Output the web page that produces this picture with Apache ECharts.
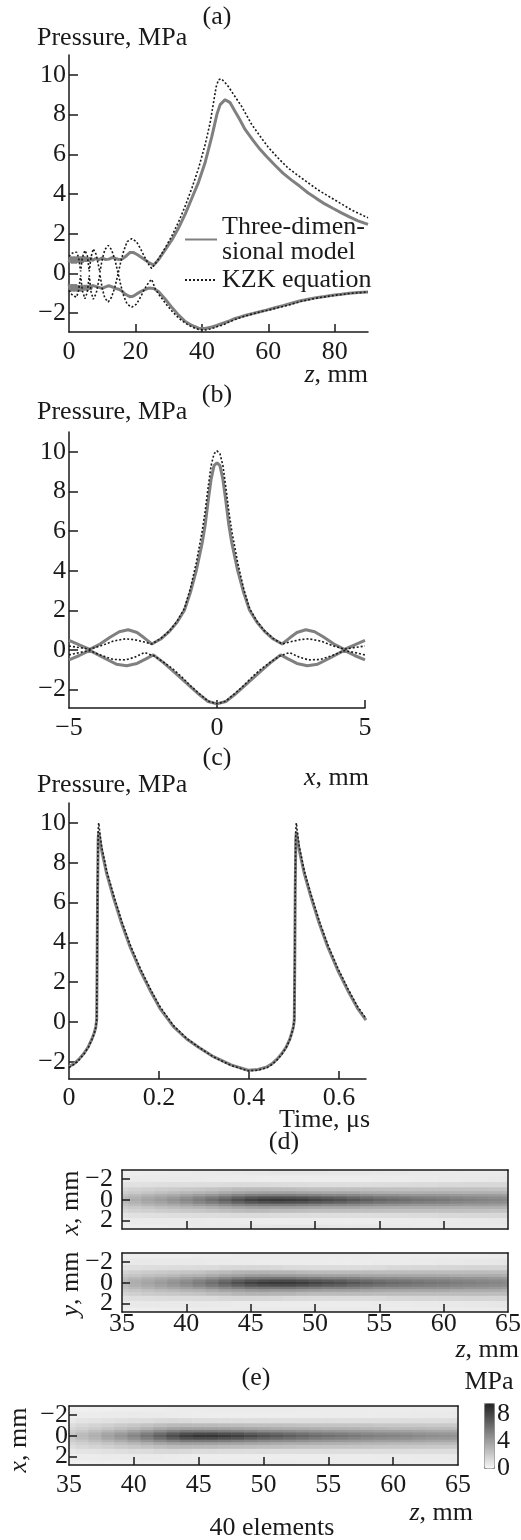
<!DOCTYPE html>
<html>
<head>
<meta charset="utf-8">
<script src="https://cdn.jsdelivr.net/npm/echarts@6/dist/echarts.min.js"></script>
<style>
html, body { margin: 0; padding: 0; background: #fff; }
#main { width: 521px; height: 1540px; }
</style>
</head>
<body>
<div id="main"></div>
<script>
// (a) peak pressures along the axis
var zA3d = [0,0.5,1,1.5,2,2.5,3,3.5,4,4.5,5,5.5,6,6.5,7,8,9,10,11,12,13,14,15,16,17,18.3,19.3,20.5,22.3,24,25.5,27,29,31,33,35,37,39,41,43,44.5,45.5,47,48.5,50,51.4,53,55.4,57.5,59.4,62,64.4,67,69.4,72,74.4,77,79.4,82,84.4,87,90];
var pPosA3d = [0.55,0.85,0.5,0.85,0.5,0.85,0.55,0.85,0.55,0.85,0.6,0.8,0.6,0.8,0.65,0.75,0.7,0.78,0.7,0.72,0.8,0.75,0.7,0.72,0.85,1.05,1.06,0.95,0.75,0.55,0.42,0.7,1.2,1.7,2.3,3.0,3.8,4.6,5.6,6.9,8.0,8.5,8.75,8.6,8.15,7.75,7.25,6.7,6.25,5.9,5.45,5.05,4.7,4.4,4.05,3.78,3.5,3.28,3.05,2.85,2.65,2.47];
var pNegA3d = [-0.55,-0.9,-0.55,-0.9,-0.55,-0.9,-0.6,-0.9,-0.6,-0.85,-0.6,-0.85,-0.6,-0.8,-0.6,-0.65,-0.7,-0.75,-0.68,-0.62,-0.68,-0.75,-0.8,-0.9,-1.05,-1.17,-1.15,-1.02,-0.85,-0.74,-0.76,-0.92,-1.3,-1.72,-2.1,-2.42,-2.62,-2.76,-2.77,-2.7,-2.62,-2.56,-2.47,-2.38,-2.27,-2.2,-2.12,-2.02,-1.93,-1.85,-1.73,-1.62,-1.5,-1.39,-1.3,-1.22,-1.16,-1.1,-1.05,-1.0,-0.96,-0.93];
var zAkzk = [0,0.8,1.6,2.3,2.9,3.5,4.0,4.8,5.5,6.1,6.6,7.3,8.2,9.3,10.0,10.8,11.8,12.8,13.8,14.8,15.6,16.5,17.5,18.9,20.3,21.5,22.7,24.0,24.9,26,27,29,31,33,35,37,39,41,42.5,43.5,44.3,45,45.8,46.8,48,50,52,55,58,60,63,66,70,75,80,85,90];
var pPosAkzk = [0.85,1.0,1.07,1.07,0.8,0.1,0.8,1.16,0.9,0.1,0.8,1.24,0.95,0.05,0.7,1.2,1.41,1.2,0.7,0.0,0.6,1.15,1.6,1.75,1.6,1.25,0.85,0.45,0.25,0.5,0.75,1.3,1.9,2.6,3.4,4.3,5.3,6.5,7.6,8.6,9.4,9.75,9.8,9.65,9.4,8.9,8.4,7.5,6.8,6.35,5.8,5.3,4.8,4.2,3.7,3.2,2.8];
var pNegAkzk = [-0.85,-1.05,-1.15,-1.19,-0.85,-0.1,-0.85,-1.28,-0.95,-0.1,-0.9,-1.3,-1.0,-0.05,-0.75,-1.25,-1.44,-1.2,-0.7,0.0,-0.6,-1.15,-1.55,-1.7,-1.55,-1.2,-0.8,-0.45,-0.3,-0.8,-1.05,-1.5,-1.9,-2.25,-2.5,-2.7,-2.82,-2.85,-2.8,-2.75,-2.7,-2.66,-2.62,-2.56,-2.46,-2.32,-2.2,-2.05,-1.92,-1.85,-1.72,-1.6,-1.4,-1.23,-1.1,-1.0,-0.93];

// (b) peak pressures across the focus
var xB3dPos = [-5,-4.65,-4.3,-3.95,-3.6,-3.3,-3.0,-2.7,-2.45,-2.2,-1.9,-1.6,-1.35,-1.1,-0.9,-0.7,-0.5,-0.4,-0.3,-0.2,-0.1,0,0.1,0.2,0.3,0.4,0.5,0.7,0.9,1.1,1.35,1.6,1.9,2.2,2.45,2.7,3.0,3.3,3.6,3.95,4.3,4.65,5];
var pB3dPos = [0.48,0.25,0.03,0.3,0.65,0.92,1.02,0.88,0.6,0.3,0.55,0.95,1.4,2.0,2.9,4.0,5.4,6.3,7.5,8.6,9.3,9.45,9.3,8.6,7.5,6.3,5.4,4.0,2.9,2.0,1.4,0.95,0.55,0.3,0.6,0.88,1.02,0.92,0.65,0.3,0.03,0.25,0.48];
var xBkzkPos = [-5,-4.65,-4.3,-3.9,-3.5,-3.1,-2.8,-2.45,-2.2,-1.9,-1.6,-1.35,-1.1,-0.9,-0.7,-0.5,-0.4,-0.3,-0.2,-0.1,0,0.1,0.2,0.3,0.4,0.5,0.7,0.9,1.1,1.35,1.6,1.9,2.2,2.45,2.8,3.1,3.5,3.9,4.3,4.65,5];
var pBkzkPos = [0.2,0.12,0.04,0.22,0.45,0.56,0.52,0.4,0.3,0.58,0.97,1.45,2.1,3.1,4.4,6.0,7.0,8.2,9.3,9.9,10.05,9.9,9.3,8.2,7.0,6.0,4.4,3.1,2.1,1.45,0.97,0.58,0.3,0.4,0.52,0.56,0.45,0.22,0.04,0.12,0.2];
var xB3dNeg = [-5,-4.65,-4.3,-3.8,-3.4,-3.05,-2.7,-2.4,-2.15,-1.8,-1.5,-1.2,-0.9,-0.6,-0.3,0,0.3,0.6,0.9,1.2,1.5,1.8,2.15,2.4,2.7,3.05,3.4,3.8,4.3,4.65,5];
var pB3dNeg = [-0.5,-0.28,-0.02,-0.42,-0.72,-0.8,-0.68,-0.45,-0.25,-0.65,-1.05,-1.45,-1.85,-2.25,-2.6,-2.72,-2.6,-2.25,-1.85,-1.45,-1.05,-0.65,-0.25,-0.45,-0.68,-0.8,-0.72,-0.42,-0.02,-0.28,-0.5];
var xBkzkNeg = [-5,-4.65,-4.3,-3.9,-3.5,-3.1,-2.8,-2.45,-2.1,-1.8,-1.5,-1.2,-0.9,-0.6,-0.3,0,0.3,0.6,0.9,1.2,1.5,1.8,2.1,2.45,2.8,3.1,3.5,3.9,4.3,4.65,5];
var pBkzkNeg = [-0.25,-0.13,-0.03,-0.28,-0.48,-0.5,-0.38,-0.13,-0.32,-0.62,-0.95,-1.35,-1.8,-2.2,-2.58,-2.72,-2.58,-2.2,-1.8,-1.35,-0.95,-0.62,-0.32,-0.13,-0.38,-0.5,-0.48,-0.28,-0.03,-0.13,-0.25];

// (c) waveform at the focus
var tC = [0,0.012,0.024,0.034,0.043,0.051,0.056,0.0595,0.0615,0.0625,0.0635,0.0648,0.066,0.0675,0.0726,0.0837,0.0985,0.117,0.1356,0.158,0.18,0.202,0.232,0.2615,0.287,0.321,0.36,0.398,0.42,0.44,0.452,0.463,0.473,0.482,0.49,0.495,0.4985,0.5007,0.5017,0.5027,0.504,0.5052,0.5067,0.5118,0.5229,0.5377,0.5562,0.5748,0.5972,0.6192,0.6412,0.66];
var pC3d = [-2.24,-2.08,-1.82,-1.55,-1.24,-0.85,-0.55,-0.25,0.1,3.0,6.5,9.2,9.55,9.45,8.62,7.45,6.28,4.95,3.78,2.6,1.6,0.69,-0.23,-0.85,-1.25,-1.74,-2.15,-2.42,-2.38,-2.25,-2.08,-1.85,-1.58,-1.28,-0.9,-0.55,-0.25,0.1,3.0,6.5,9.2,9.55,9.45,8.62,7.45,6.28,4.95,3.78,2.6,1.6,0.69,0.1];
var pCkzk = [-2.28,-2.12,-1.86,-1.58,-1.27,-0.88,-0.57,-0.27,0.1,3.2,6.8,9.6,10.0,9.7,8.8,7.6,6.42,5.08,3.9,2.72,1.7,0.78,-0.17,-0.82,-1.24,-1.75,-2.18,-2.45,-2.42,-2.29,-2.12,-1.89,-1.62,-1.31,-0.93,-0.57,-0.27,0.1,3.2,6.8,9.6,10.0,9.7,8.8,7.6,6.42,5.08,3.9,2.72,1.7,0.78,0.18];

// (d), (e) peak positive pressure maps: columns z = 35..65 mm, one row per |x| (mm)
var zCols = [35,36,37,38,39,40,41,42,43,44,45,46,47,48,49,50,51,52,53,54,55,56,57,58,59,60,61,62,63,64,65];
var absX = [0,0.25,0.5,0.75,1.0,1.5,2.0,2.75];
var mapXZ = [
  [3.0,3.4,3.8,4.2,4.6,5.1,5.6,6.2,6.9,7.7,8.3,8.6,8.75,8.7,8.5,8.2,7.9,7.7,7.4,7.0,6.7,6.5,6.3,6.1,5.95,5.85,5.65,5.5,5.35,5.2,5.05],
  [2.9,3.2,3.6,3.9,4.3,4.7,5.2,5.7,6.2,6.9,7.4,7.7,7.8,7.7,7.6,7.3,7.1,6.9,6.6,6.3,6.1,5.9,5.8,5.6,5.5,5.4,5.2,5.1,5.0,4.9,4.8],
  [2.4,2.7,3.0,3.3,3.5,3.8,4.1,4.4,4.8,5.2,5.5,5.6,5.6,5.6,5.4,5.3,5.1,5.1,5.0,4.8,4.6,4.6,4.5,4.4,4.4,4.4,4.3,4.2,4.2,4.1,4.0],
  [1.9,2.1,2.3,2.5,2.7,2.9,3.0,3.2,3.5,3.7,3.9,4.0,3.9,3.9,3.8,3.7,3.6,3.6,3.6,3.4,3.4,3.3,3.3,3.3,3.3,3.3,3.2,3.2,3.2,3.2,3.1],
  [1.5,1.7,1.8,1.9,2.0,2.1,2.2,2.4,2.5,2.7,2.8,2.8,2.7,2.7,2.6,2.5,2.5,2.5,2.5,2.5,2.45,2.45,2.45,2.45,2.45,2.45,2.45,2.45,2.45,2.4,2.4],
  [0.9,1.0,1.05,1.1,1.15,1.15,1.2,1.2,1.25,1.3,1.3,1.3,1.25,1.2,1.2,1.15,1.15,1.15,1.15,1.15,1.2,1.25,1.25,1.3,1.3,1.35,1.35,1.4,1.4,1.4,1.4],
  [0.55,0.6,0.6,0.6,0.6,0.6,0.6,0.55,0.55,0.5,0.5,0.45,0.45,0.45,0.45,0.45,0.45,0.45,0.45,0.45,0.5,0.5,0.5,0.55,0.55,0.6,0.6,0.65,0.65,0.7,0.75],
  [0.45,0.45,0.5,0.5,0.55,0.55,0.6,0.6,0.65,0.65,0.7,0.7,0.75,0.75,0.75,0.75,0.75,0.7,0.7,0.7,0.65,0.65,0.65,0.6,0.6,0.6,0.6,0.6,0.6,0.6,0.6]
];
var mapYZ = [
  [3.0,3.4,3.8,4.2,4.6,5.1,5.6,6.2,6.9,7.7,8.3,8.6,8.75,8.7,8.5,8.2,7.9,7.7,7.4,7.0,6.7,6.5,6.3,6.1,5.95,5.85,5.65,5.5,5.35,5.2,5.05],
  [2.9,3.3,3.6,4.0,4.4,4.8,5.3,5.8,6.4,7.0,7.5,7.8,7.9,7.9,7.7,7.4,7.2,7.0,6.7,6.4,6.2,6.0,5.9,5.7,5.6,5.5,5.3,5.2,5.1,5.0,4.9],
  [2.6,2.9,3.2,3.5,3.7,4.0,4.3,4.7,5.1,5.5,5.8,5.9,5.9,5.9,5.7,5.6,5.4,5.4,5.3,5.1,4.9,4.9,4.8,4.7,4.7,4.7,4.6,4.5,4.5,4.3,4.2],
  [2.1,2.3,2.5,2.7,2.9,3.1,3.2,3.5,3.8,4.0,4.2,4.3,4.2,4.2,4.1,4.0,3.9,3.9,3.9,3.7,3.7,3.6,3.6,3.6,3.6,3.6,3.5,3.5,3.5,3.5,3.3],
  [1.65,1.85,2.0,2.1,2.2,2.3,2.4,2.65,2.75,3.0,3.1,3.1,3.0,3.0,2.85,2.75,2.75,2.75,2.75,2.75,2.7,2.7,2.7,2.7,2.7,2.7,2.7,2.7,2.7,2.65,2.65],
  [1.0,1.1,1.15,1.2,1.25,1.25,1.3,1.3,1.4,1.45,1.45,1.45,1.4,1.3,1.3,1.25,1.25,1.25,1.25,1.25,1.3,1.4,1.4,1.45,1.45,1.5,1.5,1.55,1.55,1.55,1.55],
  [0.6,0.65,0.65,0.65,0.65,0.65,0.65,0.6,0.6,0.55,0.55,0.5,0.5,0.5,0.5,0.5,0.5,0.5,0.5,0.5,0.55,0.55,0.55,0.6,0.6,0.65,0.65,0.7,0.7,0.75,0.8],
  [0.4,0.4,0.4,0.45,0.45,0.45,0.5,0.5,0.5,0.55,0.55,0.55,0.55,0.55,0.55,0.55,0.55,0.55,0.55,0.55,0.5,0.5,0.5,0.5,0.5,0.5,0.5,0.5,0.5,0.55,0.55]
];
var map40 = [
  [2.3,2.8,3.3,3.9,4.5,5.2,6.0,6.9,7.8,8.5,8.9,8.9,8.7,8.4,8.0,7.6,7.3,7.0,6.7,6.4,6.2,6.0,5.8,5.6,5.45,5.3,5.15,5.0,4.85,4.7,4.6],
  [2.2,2.7,3.1,3.7,4.2,4.8,5.5,6.3,7.1,7.7,7.9,7.9,7.7,7.5,7.1,6.8,6.6,6.3,6.1,5.8,5.6,5.5,5.3,5.1,5.0,4.9,4.8,4.6,4.5,4.4,4.3],
  [1.9,2.2,2.6,3.0,3.4,3.9,4.4,4.9,5.4,5.7,5.7,5.7,5.6,5.4,5.2,5.0,4.9,4.8,4.6,4.5,4.4,4.3,4.2,4.1,4.0,4.0,3.9,3.8,3.7,3.6,3.6],
  [1.5,1.8,2.0,2.3,2.6,2.9,3.2,3.6,3.9,4.0,4.0,4.0,3.9,3.8,3.7,3.6,3.5,3.4,3.4,3.3,3.2,3.2,3.1,3.0,3.0,2.9,2.9,2.9,2.8,2.8,2.7],
  [1.2,1.4,1.6,1.8,2.0,2.2,2.4,2.6,2.8,2.85,2.8,2.8,2.7,2.65,2.55,2.5,2.5,2.45,2.4,2.35,2.35,2.35,2.3,2.3,2.2,2.2,2.15,2.15,2.1,2.1,2.05],
  [0.7,0.85,0.9,1.0,1.1,1.2,1.25,1.35,1.4,1.35,1.25,1.25,1.2,1.2,1.15,1.2,1.15,1.15,1.15,1.15,1.2,1.15,1.15,1.15,1.15,1.15,1.2,1.2,1.2,1.2,1.2],
  [0.45,0.5,0.5,0.55,0.55,0.6,0.6,0.6,0.55,0.5,0.45,0.45,0.45,0.45,0.45,0.45,0.45,0.45,0.45,0.45,0.5,0.5,0.5,0.5,0.55,0.55,0.55,0.6,0.6,0.6,0.65],
  [0.3,0.3,0.35,0.35,0.4,0.4,0.45,0.45,0.5,0.5,0.5,0.55,0.55,0.55,0.55,0.55,0.55,0.55,0.5,0.5,0.5,0.5,0.5,0.5,0.5,0.5,0.5,0.5,0.5,0.5,0.5]
];

var pTicks = [-2,0,2,4,6,8,10];
var mapTicks = [-2,0,2];
var zLabels = [35,40,45,50,55,60,65];
var barTicks = [0,4,8];

var FONT = 'Liberation Serif';
var INK = '#1a1a1a';
var NAME3D = 'Three-dimen-\nsional model';
var NAMEKZK = 'KZK equation';

function pairs(xs, ys) {
  return xs.map(function (x, i) { return [x, ys[i]]; });
}
// each cell: [z, x, value, lower edge, upper edge]; rows are mirrored about x = 0
function buildMap(rows) {
  var out = [];
  rows.forEach(function (row, r) {
    var lo = r === 0 ? 0 : (absX[r - 1] + absX[r]) / 2;
    var hi = r === absX.length - 1 ? absX[r] + (absX[r] - absX[r - 1]) / 2 : (absX[r] + absX[r + 1]) / 2;
    row.forEach(function (v, c) {
      if (r === 0) {
        out.push([zCols[c], 0, v, -hi, hi]);
      } else {
        out.push([zCols[c], absX[r], v, lo, hi]);
        out.push([zCols[c], -absX[r], v, -hi, -lo]);
      }
    });
  });
  return out;
}
function minus(v) { return String(v).replace('-', '\u2212'); }

var axLine = { onZero: false, lineStyle: { color: INK, width: 1.5 } };

function xLine(gi, min, max, labels, ticks, margin) {
  return {
    type: 'value', gridIndex: gi, min: min, max: max,
    axisLine: axLine,
    axisTick: { inside: true, length: 8, customValues: ticks, lineStyle: { color: INK, width: 1.5 } },
    axisLabel: { customValues: labels, margin: margin, fontSize: 26, color: INK, fontFamily: FONT, formatter: minus, hideOverlap: false },
    splitLine: { show: false }
  };
}
function yLine(gi, min) {
  return {
    type: 'value', gridIndex: gi, min: min, max: 11,
    axisLine: axLine,
    axisTick: { inside: true, length: 9, customValues: pTicks, lineStyle: { color: INK, width: 1.5 } },
    axisLabel: { customValues: pTicks, margin: 3, fontSize: 26, color: INK, fontFamily: FONT, formatter: minus, hideOverlap: false },
    splitLine: { show: false }
  };
}
function xMap(gi, showLabels, margin) {
  return {
    type: 'value', gridIndex: gi, min: 35, max: 65, z: 5,
    axisLine: axLine,
    axisTick: { inside: true, length: 8, customValues: [40,45,50,55,60], lineStyle: { color: INK, width: 1.5 } },
    axisLabel: { show: showLabels, customValues: zLabels, margin: margin, fontSize: 26, color: INK, fontFamily: FONT, hideOverlap: false },
    splitLine: { show: false }
  };
}
function xMapTop(gi) {
  return { type: 'value', gridIndex: gi, min: 35, max: 65, position: 'top', z: 5,
    axisLine: axLine, axisTick: { show: false }, axisLabel: { show: false }, splitLine: { show: false } };
}
// tick labels of the map y axes are placed after the first render (see below)
function yMap(gi) {
  return {
    type: 'value', gridIndex: gi, min: -2.85, max: 2.8, inverse: true, z: 5,
    axisLine: axLine,
    axisTick: { inside: true, length: 8, customValues: mapTicks, lineStyle: { color: INK, width: 1.5 } },
    axisLabel: { show: false },
    splitLine: { show: false }
  };
}
function yMapRight(gi) {
  return { type: 'value', gridIndex: gi, min: -2.85, max: 2.8, inverse: true, position: 'right', z: 5,
    axisLine: axLine, axisTick: { show: false }, axisLabel: { show: false }, splitLine: { show: false } };
}

var solid = { color: '#808080', width: 3 };
var dotted = { color: INK, width: 1.6, type: [2, 2] };

function lineSeries(name, gi, data, style, z) {
  return {
    type: 'line', name: name, xAxisIndex: gi, yAxisIndex: gi, data: data,
    symbol: 'none', showSymbol: false, lineStyle: style, itemStyle: { color: style.color },
    z: z, silent: true, animation: false
  };
}

function renderCell(params, api) {
  var z = api.value(0);
  var a = api.coord([z - 0.5, api.value(3)]);
  var b = api.coord([z + 0.5, api.value(4)]);
  var cs = params.coordSys;
  var shape = echarts.graphic.clipRectByRect(
    { x: Math.min(a[0], b[0]), y: Math.min(a[1], b[1]), width: Math.abs(b[0] - a[0]) + 0.6, height: Math.abs(b[1] - a[1]) + 0.6 },
    { x: cs.x, y: cs.y, width: cs.width, height: cs.height });
  if (!shape) return;
  return { type: 'rect', shape: shape, style: { fill: api.visual('color') } };
}
function mapSeries(xi, yi, rows) {
  return { type: 'custom', xAxisIndex: xi, yAxisIndex: yi, renderItem: renderCell,
    data: buildMap(rows), encode: { x: 0, y: 1 }, z: 1, silent: true, animation: false };
}

function txt(x, y, text, align, opts) {
  opts = opts || {};
  return {
    type: 'text', x: x, y: y, rotation: opts.rotation || 0, silent: true,
    style: {
      text: text, fill: INK, fontSize: 26, fontFamily: FONT,
      align: align, textAlign: align, verticalAlign: 'middle', textVerticalAlign: 'middle',
      rich: { i: { fontStyle: 'italic', fontSize: 26, fontFamily: FONT, fill: INK } }
    }
  };
}

var chart = echarts.init(document.getElementById('main'), null, { renderer: 'canvas' });

var option = {
  backgroundColor: '#fff',
  animation: false,
  textStyle: { fontFamily: FONT, color: INK },
  grid: [
    { left: 69, top: 55, width: 299, height: 277, outerBoundsMode: 'none' },
    { left: 69, top: 432, width: 296, height: 276, outerBoundsMode: 'none' },
    { left: 69, top: 803, width: 297, height: 276, outerBoundsMode: 'none' },
    { left: 122, top: 1170, width: 386, height: 59, outerBoundsMode: 'none' },
    { left: 122, top: 1253, width: 386, height: 59, outerBoundsMode: 'none' },
    { left: 69, top: 1406, width: 389, height: 59, outerBoundsMode: 'none' },
    { left: 484, top: 1403, width: 10, height: 65, outerBoundsMode: 'none' }
  ],
  xAxis: [
    xLine(0, 0, 90, [0,20,40,60,80], [20,40,60,80], 7),
    xLine(1, -5, 5, [-5,0,5], [0,5], 7),
    xLine(2, 0, 0.66, [0,0.2,0.4,0.6], [0.2,0.4,0.6], 6),
    xMap(3, false, 0), xMapTop(3),
    xMap(4, true, -1), xMapTop(4),
    xMap(5, true, 7), xMapTop(5),
    { type: 'value', gridIndex: 6, min: 0, max: 1, show: false }
  ],
  yAxis: [
    yLine(0, -2.95),
    yLine(1, -2.93),
    yLine(2, -2.86),
    yMap(3), yMapRight(3),
    yMap(4), yMapRight(4),
    yMap(5), yMapRight(5),
    { type: 'value', gridIndex: 6, min: 0, max: 9.7, position: 'right',
      axisLine: { show: false }, axisTick: { show: false }, splitLine: { show: false },
      axisLabel: { customValues: barTicks, margin: 3, fontSize: 26, lineHeight: 18, color: INK, fontFamily: FONT, hideOverlap: false } }
  ],
  legend: {
    data: [NAME3D, NAMEKZK], orient: 'vertical', left: 179, top: 209,
    itemWidth: 32, itemHeight: 12, itemGap: 2, selectedMode: false,
    itemStyle: { opacity: 0 },
    textStyle: { fontSize: 26, lineHeight: 25, color: INK, fontFamily: FONT }
  },
  visualMap: {
    type: 'continuous', min: 0, max: 9.7, dimension: 2, seriesIndex: [10, 11, 12],
    inRange: { color: ['#f7f7f7', '#232323'] },
    left: 484, top: 1403, itemWidth: 10, itemHeight: 65, padding: 0,
    calculable: false, hoverLink: false, text: null,
    borderColor: '#8a8a8a', borderWidth: 1
  },
  series: [
    lineSeries(NAME3D, 0, pairs(zA3d, pPosA3d), solid, 2),
    lineSeries(NAME3D, 0, pairs(zA3d, pNegA3d), solid, 2),
    lineSeries(NAMEKZK, 0, pairs(zAkzk, pPosAkzk), dotted, 3),
    lineSeries(NAMEKZK, 0, pairs(zAkzk, pNegAkzk), dotted, 3),
    lineSeries(NAME3D, 1, pairs(xB3dPos, pB3dPos), solid, 2),
    lineSeries(NAME3D, 1, pairs(xB3dNeg, pB3dNeg), solid, 2),
    lineSeries(NAMEKZK, 1, pairs(xBkzkPos, pBkzkPos), dotted, 3),
    lineSeries(NAMEKZK, 1, pairs(xBkzkNeg, pBkzkNeg), dotted, 3),
    lineSeries(NAME3D, 2, pairs(tC, pC3d), solid, 2),
    lineSeries(NAMEKZK, 2, pairs(tC, pCkzk), dotted, 3),
    mapSeries(3, 3, mapXZ),
    mapSeries(5, 5, mapYZ),
    mapSeries(7, 7, map40)
  ],
  graphic: [
    txt(217, 17, '(a)', 'center'),
    txt(37, 38, 'Pressure, MPa', 'left'),
    txt(368, 375, '{i|z}, mm', 'right'),
    txt(217, 395, '(b)', 'center'),
    txt(37, 412, 'Pressure, MPa', 'left'),
    txt(217, 758, '(c)', 'center'),
    txt(369, 778, '{i|x}, mm', 'right'),
    txt(37, 785, 'Pressure, MPa', 'left'),
    txt(370, 1120, 'Time, \u03bcs', 'right'),
    txt(284, 1142, '(d)', 'center'),
    txt(71, 1203, '{i|x}, mm', 'center', { rotation: Math.PI / 2 }),
    txt(71, 1284, '{i|y}, mm', 'center', { rotation: Math.PI / 2 }),
    txt(519, 1350, '{i|z}, mm', 'right'),
    txt(256, 1378, '(e)', 'center'),
    txt(489, 1382, 'MPa', 'center'),
    txt(19, 1440, '{i|x}, mm', 'center', { rotation: Math.PI / 2 }),
    txt(473, 1513, '{i|z}, mm', 'right'),
    txt(272, 1528, '40 elements', 'center')
  ]
};

chart.setOption(option);

// map y tick labels, positioned through each axis' own scale
var mapLabelAxes = [[3, 122, 9], [5, 122, 9], [7, 69, 1]];
var tickTexts = [];
mapLabelAxes.forEach(function (s) {
  mapTicks.forEach(function (v) {
    var y = chart.convertToPixel({ yAxisIndex: s[0] }, v);
    tickTexts.push(txt(s[1] - s[2], y, minus(v), 'right'));
  });
});
chart.setOption({ graphic: option.graphic.concat(tickTexts) });

window.onresize = function () {
  chart.resize();
};
</script>
</body>
</html>
